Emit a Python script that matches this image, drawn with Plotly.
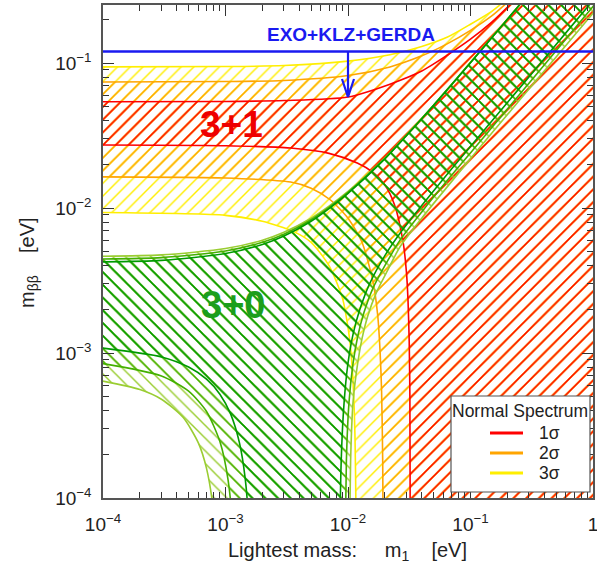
import numpy as np
import plotly.graph_objects as go

# ---------------- data ----------------
# axis ranges (log10)
X_RANGE = [-4, 0]
Y_RANGE = [-4, -0.6]
x_tickvals = [1e-4, 1e-3, 1e-2, 1e-1, 1.0]
x_ticktext = ["10<sup>−4</sup>", "10<sup>−3</sup>", "10<sup>−2</sup>", "10<sup>−1</sup>", "1"]
y_tickvals = [1e-4, 1e-3, 1e-2, 1e-1]
y_ticktext = ["10<sup>−4</sup>", "10<sup>−3</sup>", "10<sup>−2</sup>", "10<sup>−1</sup>"]

# 3+1 scheme : upper edges of the m_bb bands (1, 2, 3 sigma)
m1_up31 = [1e-4, 1e-3, 3e-3, 1e-2, 2.2e-2, 4e-2, 6.5e-2, 0.1, 0.15, 0.2, 0.3, 0.5, 1.0]
up31_1s = [0.054, 0.0543, 0.0551, 0.0583, 0.0715, 0.088, 0.1136, 0.146, 0.192, 0.242, 0.342, 0.545, 1.05]
up31_2s = [0.074, 0.0745, 0.0758, 0.0820, 0.0940, 0.112, 0.136, 0.168, 0.212, 0.262, 0.362, 0.565, 1.07]
up31_3s = [0.094, 0.0945, 0.0960, 0.1030, 0.1140, 0.130, 0.151, 0.185, 0.228, 0.278, 0.380, 0.585, 1.09]

# 3+1 scheme : lower edges
lo31_1s_m1 = [1e-4, 1e-3, 3.4e-3, 7e-3, 0.0119, 0.016, 0.0197, 0.024, 0.0282, 0.0300, 0.0309, 0.0316, 0.0320, 0.0322]
lo31_1s = [0.0272, 0.0269, 0.0259, 0.0238, 0.0204, 0.0176, 0.0147, 0.0105, 0.0058, 0.0036, 0.0023, 0.0012, 5e-4, 3e-5]
lo31_2s_m1 = [1e-4, 1e-3, 3.4e-3, 5e-3, 7.15e-3, 1e-2, 1.3e-2, 1.6e-2, 1.75e-2, 1.83e-2, 1.88e-2, 1.92e-2, 1.94e-2]
lo31_2s = [0.0164, 0.0161, 0.0151, 0.0137, 0.0114, 0.0085, 0.0058, 0.0031, 0.0018, 0.0010, 5.5e-4, 1.8e-4, 3e-5]
lo31_3s_m1 = [1e-4, 1e-3, 2e-3, 3.56e-3, 5e-3, 7e-3, 9e-3, 1.0e-2, 1.05e-2, 1.1e-2, 1.14e-2, 1.16e-2, 1.17e-2]
lo31_3s = [0.0093, 0.0089, 0.0081, 0.0069, 0.0058, 0.0040, 0.0024, 0.0015, 0.00108, 6.3e-4, 2.7e-4, 9e-5, 3e-5]

# 3+0 scheme : upper edges
m1_up30 = [1e-4, 3e-4, 1e-3, 2e-3, 3e-3, 5e-3, 7e-3, 1e-2, 2e-2, 3e-2, 5e-2, 0.1, 0.3, 1.0, 1.5]
up30_1s = [4.25e-3, 4.35e-3, 4.85e-3, 5.6e-3, 6.4e-3, 8.1e-3, 9.9e-3, 0.0126, 0.0218, 0.0315, 0.0510, 0.1005, 0.300, 1.00, 1.50]
up30_2s = [4.45e-3, 4.55e-3, 5.05e-3, 5.8e-3, 6.6e-3, 8.3e-3, 10.1e-3, 0.0128, 0.0220, 0.0317, 0.0512, 0.1007, 0.300, 1.00, 1.50]
up30_3s = [4.65e-3, 4.75e-3, 5.25e-3, 6.0e-3, 6.8e-3, 8.5e-3, 10.3e-3, 0.0130, 0.0222, 0.0319, 0.0514, 0.1010, 0.300, 1.00, 1.50]

# 3+0 scheme : lower edges, small-m1 side
ll30_1s_m1 = [1e-4, 3e-4, 5e-4, 7e-4, 9e-4, 1.1e-3, 1.3e-3, 1.45e-3, 1.55e-3, 1.62e-3]
ll30_1s = [1.08e-3, 9.4e-4, 8.0e-4, 6.6e-4, 5.2e-4, 3.8e-4, 2.4e-4, 1.35e-4, 6.5e-5, 2e-5]
ll30_2s_m1 = [1e-4, 3e-4, 5e-4, 7e-4, 9e-4, 1.05e-3, 1.15e-3, 1.2e-3]
ll30_2s = [8.45e-4, 6.95e-4, 5.45e-4, 3.95e-4, 2.45e-4, 1.33e-4, 5.8e-5, 2e-5]
ll30_3s_m1 = [1e-4, 2e-4, 3e-4, 4.5e-4, 6e-4, 7e-4, 8e-4, 8.5e-4, 8.8e-4]
ll30_3s = [6.4e-4, 5.6e-4, 4.8e-4, 3.6e-4, 2.4e-4, 1.6e-4, 8e-5, 4e-5, 1.6e-5]

# 3+0 scheme : lower edges, large-m1 side
lr30_1s_m1 = [0.0085, 0.0088, 0.0093, 0.010, 0.011, 0.0125, 0.015, 0.02, 0.0266, 0.04, 0.07, 0.15, 0.4, 1.0, 1.5]
lr30_1s = [2e-5, 1.8e-4, 4.6e-4, 8.5e-4, 1.35e-3, 2.0e-3, 3.0e-3, 4.7e-3, 6.7e-3, 0.0104, 0.0186, 0.040, 0.107, 0.27, 0.40]
lr30_2s_m1 = [0.0094, 0.0097, 0.0102, 0.011, 0.012, 0.0135, 0.016, 0.02, 0.0266, 0.04, 0.07, 0.15, 0.4, 1.0, 1.5]
lr30_2s = [2e-5, 1.8e-4, 4.6e-4, 8.5e-4, 1.3e-3, 1.9e-3, 2.8e-3, 4.0e-3, 6.0e-3, 9.4e-3, 0.0168, 0.036, 0.097, 0.245, 0.37]
lr30_3s_m1 = [0.0102, 0.0105, 0.011, 0.012, 0.013, 0.0145, 0.017, 0.021, 0.0266, 0.04, 0.07, 0.15, 0.4, 1.0, 1.5]
lr30_3s = [2e-5, 1.8e-4, 4.6e-4, 8.5e-4, 1.25e-3, 1.8e-3, 2.6e-3, 3.7e-3, 5.4e-3, 8.5e-3, 0.0152, 0.033, 0.088, 0.22, 0.33]

# experimental bound
LIMIT_LABEL = "EXO+KLZ+GERDA"
LIMIT = 0.12
ARROW_M1 = 0.01
ARROW_TIP = 0.0583

legend_title = "Normal Spectrum"
legend_labels = ["1σ", "2σ", "3σ"]

# ---------------- style ----------------
RED, ORANGE, YELLOW = "#ff0000", "#ffa500", "#ffee00"
G1, G2, G3 = "#009a00", "#44b000", "#9acd32"
BLUE = "#1a1af0"
FONT = "Liberation Sans, Arial, sans-serif"
HATCH = 9
SOL = 0.16

W, H = 597, 577
ML, MR, MT, MB = 103, 4, 5, 79
PW, PH = W - ML - MR, H - MT - MB

# polygon closing points far outside the visible frame
X_EXT, Y_TOP_EXT, Y_BOT_EXT = 2.0, 2.0, 1e-6

fig = go.Figure()


def add_region(xs, ys, color, shape):
    fig.add_trace(go.Scatter(
        x=xs, y=ys, mode="lines", fill="toself",
        fillcolor="rgba(0,0,0,0)",
        fillpattern=dict(shape=shape, fgcolor=color, bgcolor="rgba(0,0,0,0)",
                         size=HATCH, solidity=SOL, fgopacity=1),
        line=dict(color=color, width=1.6, shape="spline", smoothing=0.7),
        hoverinfo="skip", showlegend=False))


def region31(m_up, v_up, m_lo, v_lo):
    xs = list(m_up) + [X_EXT, X_EXT, m_lo[-1]] + list(m_lo)[::-1]
    ys = list(v_up) + [Y_TOP_EXT, Y_BOT_EXT, Y_BOT_EXT] + list(v_lo)[::-1]
    return xs, ys


def region30(m_up, v_up, m_r, v_r, m_l, v_l):
    xs = list(m_up) + list(m_r)[::-1] + [m_r[0], m_l[-1]] + list(m_l)[::-1]
    ys = list(v_up) + list(v_r)[::-1] + [Y_BOT_EXT, Y_BOT_EXT] + list(v_l)[::-1]
    return xs, ys


# 3+1 (drawn widest first)
for up, mlo, lo, col in [(up31_3s, lo31_3s_m1, lo31_3s, YELLOW),
                         (up31_2s, lo31_2s_m1, lo31_2s, ORANGE),
                         (up31_1s, lo31_1s_m1, lo31_1s, RED)]:
    xs, ys = region31(m1_up31, up, mlo, lo)
    add_region(xs, ys, col, "/")

# 3+0
for up, mr, r, ml, l, col in [(up30_3s, lr30_3s_m1, lr30_3s, ll30_3s_m1, ll30_3s, G3),
                              (up30_2s, lr30_2s_m1, lr30_2s, ll30_2s_m1, ll30_2s, G2),
                              (up30_1s, lr30_1s_m1, lr30_1s, ll30_1s_m1, ll30_1s, G1)]:
    xs, ys = region30(m1_up30, up, mr, r, ml, l)
    add_region(xs, ys, col, "\\")

# experimental limit line
fig.add_trace(go.Scatter(x=[10 ** X_RANGE[0], 10 ** X_RANGE[1]], y=[LIMIT, LIMIT], mode="lines",
                         line=dict(color=BLUE, width=2.6), hoverinfo="skip", showlegend=False))
# arrow
dec_per_px_x = (X_RANGE[1] - X_RANGE[0]) / PW
dec_per_px_y = (Y_RANGE[1] - Y_RANGE[0]) / PH
hw, hh = 6 * dec_per_px_x, 18 * dec_per_px_y
ax_l = ARROW_M1 * 10 ** (-hw)
ax_r = ARROW_M1 * 10 ** (hw)
ay_h = ARROW_TIP * 10 ** (hh)
fig.add_trace(go.Scatter(x=[ARROW_M1, ARROW_M1, None, ax_l, ARROW_M1, ax_r],
                         y=[LIMIT, ARROW_TIP, None, ay_h, ARROW_TIP, ay_h], mode="lines",
                         line=dict(color=BLUE, width=2.2), hoverinfo="skip", showlegend=False))


def minor_vals(lo, hi):
    v = []
    for d in range(int(np.floor(lo)), int(np.ceil(hi)) + 1):
        for k in range(2, 10):
            val = k * 10.0 ** d
            if 10 ** lo < val < 10 ** hi:
                v.append(val)
    return v


axis_common = dict(type="log", tickmode="array", ticks="inside",
                   ticklen=11, tickwidth=1, tickcolor="#333", showline=True,
                   linecolor="#555", linewidth=1.5, mirror="ticks", showgrid=False,
                   zeroline=False, automargin=False, ticklabeloverflow="allow",
                   tickfont=dict(family=FONT, size=19, color="#222"))

fig.update_layout(
    template="none",
    width=W, height=H, margin=dict(l=ML, r=MR, t=MT, b=MB, pad=0),
    paper_bgcolor="white", plot_bgcolor="white", showlegend=False,
    xaxis=dict(range=X_RANGE, tickvals=x_tickvals, ticktext=x_ticktext, ticklabelstandoff=8,
               minor=dict(ticks="inside", ticklen=6, tickcolor="#333",
                          tickvals=minor_vals(*X_RANGE), showgrid=False),
               **axis_common),
    yaxis=dict(range=Y_RANGE, tickvals=y_tickvals, ticktext=y_ticktext, ticklabelstandoff=6,
               minor=dict(ticks="inside", ticklen=6, tickcolor="#333",
                          tickvals=minor_vals(*Y_RANGE), showgrid=False),
               **axis_common),
)


def px2paper(px, py):
    return (px - ML) / PW, (MT + PH - py) / PH


def text_at(px, py, text, size, color, bold=False, angle=0, xanchor="center"):
    x, y = px2paper(px, py)
    return dict(x=x, y=y, xref="paper", yref="paper", showarrow=False,
                xanchor=xanchor, yanchor="middle", textangle=angle,
                text=("<b>%s</b>" % text) if bold else text,
                font=dict(family=FONT, size=size, color=color))


annos = []
nb = "\u00a0"
annos.append(text_at(347, 551, "Lightest mass:" + nb * 5 + "m<sub>1</sub>" + nb * 4 + "[eV]", 20, "#222"))
annos.append(text_at(28, 263, "m<sub>ββ</sub>" + nb * 4 + "[eV]", 20, "#222", angle=-90))
annos.append(text_at(231, 124, "3+1", 37, "#ee0000", bold=True))
annos.append(text_at(233, 305, "3+0", 38, "#1c9e1c", bold=True))
annos.append(text_at(351, 35, LIMIT_LABEL, 19, BLUE, bold=True))

# legend box
shapes = []
x0, y0 = px2paper(451, 492)
x1, y1 = px2paper(590, 396)
shapes.append(dict(type="rect", xref="paper", yref="paper", x0=x0, y0=y0, x1=x1, y1=y1,
                   fillcolor="white", line=dict(color="#555", width=1.2), layer="above"))
annos.append(text_at(520, 411, legend_title, 17.5, "#222"))
for i, (lab, col) in enumerate(zip(legend_labels, [RED, ORANGE, YELLOW])):
    py = 433 + 20 * i
    lx0, ly = px2paper(490, py)
    lx1, _ = px2paper(523, py)
    shapes.append(dict(type="line", xref="paper", yref="paper", x0=lx0, x1=lx1, y0=ly, y1=ly,
                       line=dict(color=col, width=3.2), layer="above"))
    annos.append(text_at(537, py, lab, 17.5, "#222", xanchor="left"))

fig.update_layout(annotations=annos, shapes=shapes)
fig.write_html("out.html", config={"displayModeBar": False},
               post_script="document.body.style.margin='0';document.body.style.overflow='hidden';")
